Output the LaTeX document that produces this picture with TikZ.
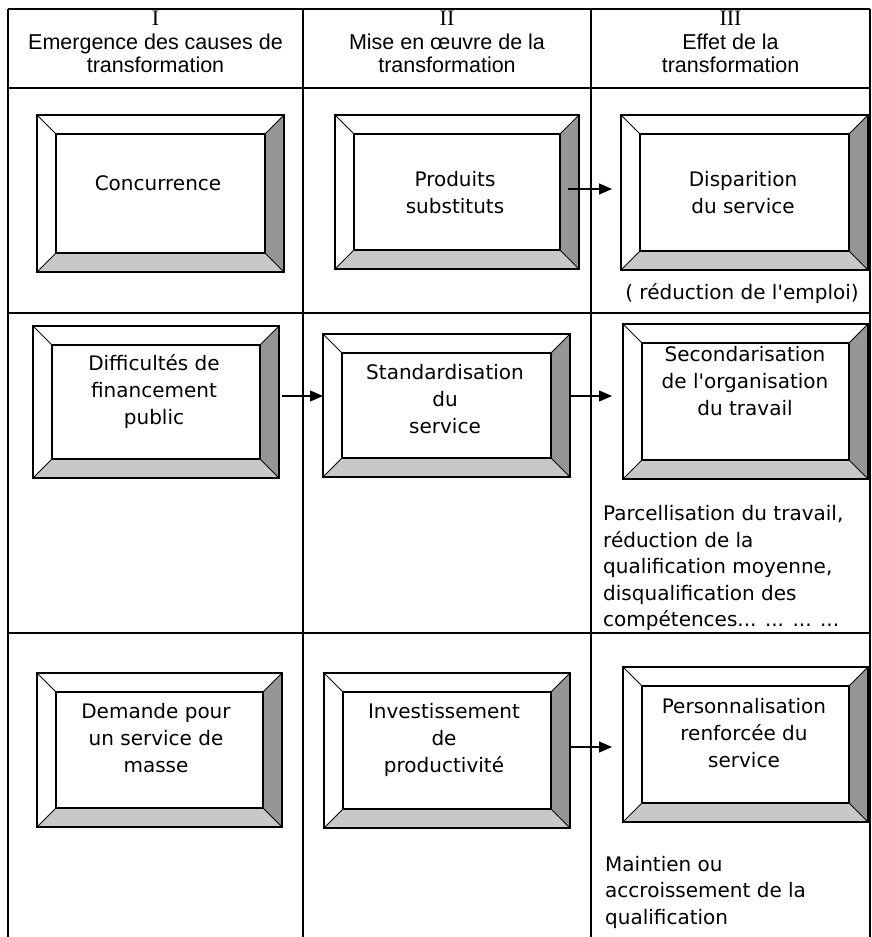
\documentclass[tikz,border=0pt]{standalone}
\usepackage{fontspec}
\setmainfont{DejaVu Sans}
\newfontfamily\headfont{Liberation Sans}
\newfontfamily\numfont{Liberation Serif}
\usetikzlibrary{arrows.meta, calc, fit}
\definecolor{bevdark}{RGB}{150, 150, 150}
\definecolor{bevlight}{RGB}{200, 200, 200}
\tikzset{
    tabline/.style={line width=1.2pt, black},
    bevout/.style={rectangle, draw=black, line width=2pt, inner sep=0pt, outer sep=0pt},
    bevin/.style={draw=black, line width=1.5pt},
    bevedge/.style={draw=black, line width=0.8pt},
    boxtxt/.style={align=center, font=\fontsize{20}{27}\selectfont, inner sep=0pt},
    notetxt/.style={align=left, anchor=west, font=\fontsize{20}{26.5}\selectfont, inner sep=0pt},
    headtxt/.style={align=center, font=\headfont\fontsize{21.5}{23.5}\selectfont, inner sep=0pt},
    arr/.style={-{Triangle[length=13pt, width=11pt]}, line width=1.3pt, black}
}
% bevelled box: name, outer x1, y1, x2, y2
\newcommand{\bevbox}[5]{%
    \coordinate (#1-o1) at (#2,#3);
    \coordinate (#1-o2) at (#4,#3);
    \coordinate (#1-o3) at (#4,#5);
    \coordinate (#1-o4) at (#2,#5);
    \coordinate (#1-i1) at ($(#1-o1)+(19,19)$);
    \coordinate (#1-i2) at ($(#1-o2)+(-19,19)$);
    \coordinate (#1-i3) at ($(#1-o3)+(-19,-19)$);
    \coordinate (#1-i4) at ($(#1-o4)+(19,-19)$);
    \fill[bevdark] (#1-o2) -- (#1-i2) -- (#1-i3) -- (#1-o3) -- cycle;
    \fill[bevlight] (#1-o4) -- (#1-i4) -- (#1-i3) -- (#1-o3) -- cycle;
    \draw[bevedge] (#1-o1) -- (#1-i1) (#1-o2) -- (#1-i2) (#1-o3) -- (#1-i3) (#1-o4) -- (#1-i4);
    \draw[bevin] (#1-i1) rectangle (#1-i3);
    \node[bevout, fit=(#1-o1)(#1-o3)] (#1) {};
}
\newcommand{\numtxt}[1]{{\numfont\fontsize{22}{23.5}\selectfont #1}}

\begin{document}
\begin{tikzpicture}[x=1pt, y=-1pt]
    \fill[white] (0,0) rectangle (872,937);
    \useasboundingbox (0,0) rectangle (872,937);

    \foreach \x in {8,303,591,870} \draw[tabline] (\x,9) -- (\x,937);
    \foreach \y in {9,88,313,633} \draw[tabline] (8,\y) -- (870,\y);

    \node[headtxt] (h1) at (155.5,42) {\numtxt{I}\\Emergence des causes de\\transformation};
    \node[headtxt] (h2) at (447,42) {\numtxt{II}\\Mise en œuvre de la\\transformation};
    \node[headtxt] (h3) at (730.5,42) {\numtxt{III}\\Effet de la\\transformation};

    \bevbox{conc}{37}{115}{284}{272}
    \bevbox{prod}{335}{115}{579}{269}
    \bevbox{disp}{621}{115}{868}{270}
    \bevbox{diff}{33}{326}{279}{478}
    \bevbox{stand}{323}{334}{570}{477}
    \bevbox{sec}{623}{324}{868}{479}
    \bevbox{dem}{37}{673}{282}{827}
    \bevbox{inv}{324}{673}{570}{828}
    \bevbox{pers}{623}{667}{868}{822}

    \node[boxtxt] (conc-t) at (158,183) {Concurrence};
    \node[boxtxt] (prod-t) at (455,193) {Produits\\substituts};
    \node[boxtxt] (disp-t) at (743,193) {Disparition\\du service};
    \node[boxtxt] (diff-t) at (154,392) {Difficultés de\\financement\\public};
    \node[boxtxt] (stand-t) at (445,399) {Standardisation\\du\\service};
    \node[boxtxt] (sec-t) at (745,381) {Secondarisation\\de l\textquotesingle organisation\\du travail};
    \node[boxtxt] (dem-t) at (156,738) {Demande pour\\un service de\\masse};
    \node[boxtxt] (inv-t) at (444,740) {Investissement\\de\\productivité};
    \node[boxtxt] (pers-t) at (744,733) {Personnalisation\\renforcée du\\service};

    \node[boxtxt] (disp-n) at (742,294) {( réduction de l\textquotesingle emploi)};
    \node[notetxt] (sec-n) at (603,568) {Parcellisation du travail,\\réduction de la\\qualification moyenne,\\disqualification des\\compétences... ... ... ...};
    \node[notetxt] (pers-n) at (605,892) {Maintien ou\\accroissement de la\\qualification};

    \draw[arr] ([xshift=-11pt,yshift=3pt]prod.east) -- ([xshift=-9pt,yshift=3.5pt]disp.west);
    \draw[arr] ([xshift=3pt,yshift=6pt]diff.east) -- ([yshift=9.5pt]stand.west);
    \draw[arr] ([yshift=9.5pt]stand.east) -- ([xshift=-11pt,yshift=5.5pt]sec.west);
    \draw[arr] ([yshift=3.5pt]inv.east) -- ([xshift=-11pt,yshift=-2.5pt]pers.west);
\end{tikzpicture}
\end{document}
